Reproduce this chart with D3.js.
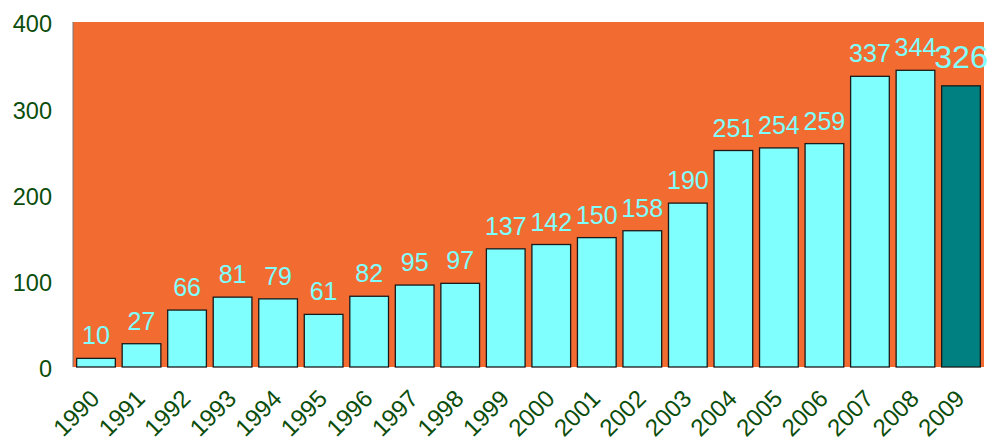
<!DOCTYPE html>
<html>
<head>
<meta charset="utf-8">
<script src="https://cdn.jsdelivr.net/npm/d3@7"></script>
<style>
	body { margin: 0; background: #fff; }
	svg text { font-family: "Liberation Sans", Arial, sans-serif; }
</style>
</head>
<body>
<div id="chart"><svg></svg></div>
<script>
//Chart values.
const years = ['1990', '1991', '1992', '1993', '1994', '1995', '1996', '1997', '1998', '1999',
	'2000', '2001', '2002', '2003', '2004', '2005', '2006', '2007', '2008', '2009'];
const counts = [10, 27, 66, 81, 79, 61, 82, 95, 97, 137, 142, 150, 158, 190, 251, 254, 259, 337, 344, 326];
const yTicks = [0, 100, 200, 300, 400];
const highlightYear = '2009';

const width = 990;
const height = 437;
const margin = {top: 22, right: 6, bottom: 70, left: 73};
const innerWidth = width - margin.left - margin.right;
const innerHeight = height - margin.top - margin.bottom;

const svg = d3.select('#chart').select('svg')
	.attr('width', width)
	.attr('height', height);

const g = svg.append('g')
	.attr('transform', `translate(${margin.left}, ${margin.top})`);

const x = d3.scaleBand()
	.domain(years)
	.range([0, innerWidth])
	.paddingInner(0.15)
	.paddingOuter(0.08);

const y = d3.scaleLinear()
	.domain([0, 400])
	.range([innerHeight, 0]);

//Orange plot area.
g.append('rect')
	.attr('width', innerWidth)
	.attr('height', innerHeight)
	.attr('fill', '#f26b31');

//Left axis line.
g.append('line')
	.attr('x1', 0).attr('x2', 0)
	.attr('y1', 0).attr('y2', innerHeight)
	.attr('stroke', '#777')
	.attr('stroke-width', 1);

//Y axis labels.
const yAxis = g.append('g')
	.call(d3.axisLeft(y).tickValues(yTicks).tickSize(0).tickPadding(21));
yAxis.select('.domain').remove();
yAxis.selectAll('text')
	.attr('fill', '#0b4d0b')
	.style('font-size', '23.5px')
	.attr('dy', '0.42em');

//Bars.
const data = years.map((d, i) => ({year: d, value: counts[i]}));
g.selectAll('rect.bar')
	.data(data)
	.join('rect')
	.attr('class', 'bar')
	.attr('x', d => x(d.year))
	.attr('y', d => y(d.value))
	.attr('width', x.bandwidth())
	.attr('height', d => innerHeight - y(d.value))
	.attr('fill', d => d.year === highlightYear ? '#008080' : '#80ffff')
	.attr('stroke', '#1a1a1a')
	.attr('stroke-width', 1.3);

//Value labels.
g.selectAll('text.value')
	.data(data)
	.join('text')
	.attr('class', 'value')
	.attr('x', d => x(d.year) + x.bandwidth() / 2)
	.attr('y', d => y(d.value) - (d.year === highlightYear ? 18 : 14))
	.attr('text-anchor', 'middle')
	.attr('fill', '#80ffff')
	.style('font-size', d => d.year === highlightYear ? '32px' : '25px')
	.text(d => d.value);

//X axis labels, rotated.
g.selectAll('text.year')
	.data(years)
	.join('text')
	.attr('class', 'year')
	.attr('text-anchor', 'end')
	.attr('transform', d => `translate(${x(d) + x.bandwidth() / 2 + 5}, ${innerHeight + 33}) rotate(-45)`)
	.attr('fill', '#0b4d0b')
	.style('font-size', '24px')
	.text(d => d);
</script>
</body>
</html>
